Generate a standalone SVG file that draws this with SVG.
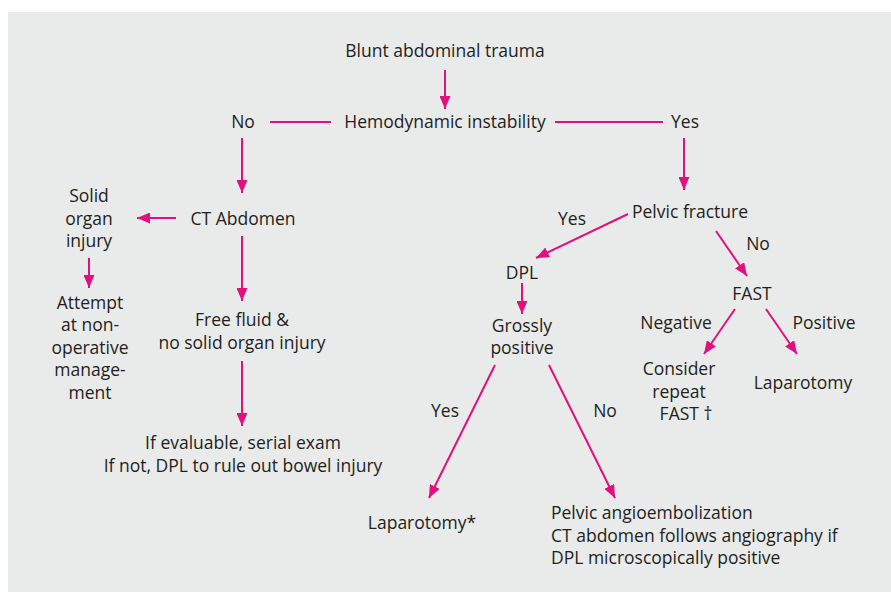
<svg xmlns="http://www.w3.org/2000/svg" width="891" height="592" viewBox="0 0 891 592">
<defs>
<style>
text{font-family:"Open Sans","Liberation Sans",Arial,sans-serif;font-size:17.5px;fill:#231f20;text-anchor:middle}
.s{text-anchor:start}
.c{stroke:#e0107e;stroke-width:2;fill:none}
.a{marker-end:url(#ah)}
</style>
<marker id="ah" markerUnits="userSpaceOnUse" markerWidth="13" markerHeight="11" refX="13" refY="5.5" orient="auto" viewBox="0 0 13 11">
<path d="M0,0 L13,5.5 L0,11 z" fill="#e0107e"/>
</marker>
</defs>
<rect x="8" y="12" width="883" height="580" fill="#e9eaea"/>
<g id="connectors">
<line class="c a" x1="445" y1="70" x2="445" y2="109"/>
<line class="c" x1="270" y1="122" x2="331" y2="122"/>
<line class="c" x1="555" y1="122" x2="663" y2="122"/>
<line class="c a" x1="242" y1="138" x2="242" y2="193"/>
<line class="c a" x1="176" y1="218" x2="137" y2="218"/>
<line class="c a" x1="89" y1="258" x2="89" y2="288"/>
<line class="c a" x1="242" y1="236" x2="242" y2="301"/>
<line class="c a" x1="242" y1="361" x2="242" y2="426"/>
<line class="c a" x1="684" y1="138" x2="684" y2="190"/>
<line class="c a" x1="628" y1="214" x2="536" y2="258"/>
<line class="c a" x1="716" y1="231" x2="747" y2="276"/>
<line class="c a" x1="522" y1="283" x2="522" y2="314"/>
<line class="c a" x1="735" y1="309" x2="704" y2="354"/>
<line class="c a" x1="766" y1="309" x2="797" y2="354"/>
<line class="c a" x1="495" y1="365" x2="429" y2="498"/>
<line class="c a" x1="549" y1="365" x2="615" y2="498"/>
</g>
<g id="n-blunt"><text x="445" y="57">Blunt abdominal trauma</text></g>
<g id="n-hemo"><text x="445" y="128">Hemodynamic instability</text></g>
<g id="n-no1"><text x="243" y="128">No</text></g>
<g id="n-yes1"><text x="685" y="128">Yes</text></g>
<g id="n-ct"><text x="243" y="225">CT Abdomen</text></g>
<g id="n-solid"><text x="89" y="202">Solid</text><text x="89" y="225">organ</text><text x="89" y="247">injury</text></g>
<g id="n-attempt"><text x="90" y="309">Attempt</text><text x="90" y="331">at non-</text><text x="90" y="354">operative</text><text x="90" y="376">manage-</text><text x="90" y="399">ment</text></g>
<g id="n-free"><text x="242" y="326">Free fluid &amp;</text><text x="242" y="349">no solid organ injury</text></g>
<g id="n-eval"><text x="243" y="449">If evaluable, serial exam</text><text x="243" y="472">If not, DPL to rule out bowel injury</text></g>
<g id="n-pelvic"><text x="690" y="218">Pelvic fracture</text></g>
<g id="n-yes2"><text x="572" y="225">Yes</text></g>
<g id="n-no2"><text x="758" y="250">No</text></g>
<g id="n-dpl"><text x="522" y="279">DPL</text></g>
<g id="n-fast"><text x="752" y="300">FAST</text></g>
<g id="n-gross"><text x="522" y="332">Grossly</text><text x="522" y="354">positive</text></g>
<g id="n-neg"><text x="676" y="329">Negative</text></g>
<g id="n-pos"><text x="824" y="329">Positive</text></g>
<g id="n-consider"><text x="679" y="375">Consider</text><text x="679" y="398">repeat</text><text x="686" y="420">FAST †</text></g>
<g id="n-lap"><text x="803" y="389">Laparotomy</text></g>
<g id="n-yes3"><text x="445" y="417">Yes</text></g>
<g id="n-no3"><text x="605" y="417">No</text></g>
<g id="n-lapstar"><text x="422" y="529">Laparotomy*</text></g>
<g id="n-angio"><text class="s" x="551" y="519">Pelvic angioembolization</text><text class="s" x="551" y="542">CT abdomen follows angiography if</text><text class="s" x="551" y="564">DPL microscopically positive</text></g>
</svg>
